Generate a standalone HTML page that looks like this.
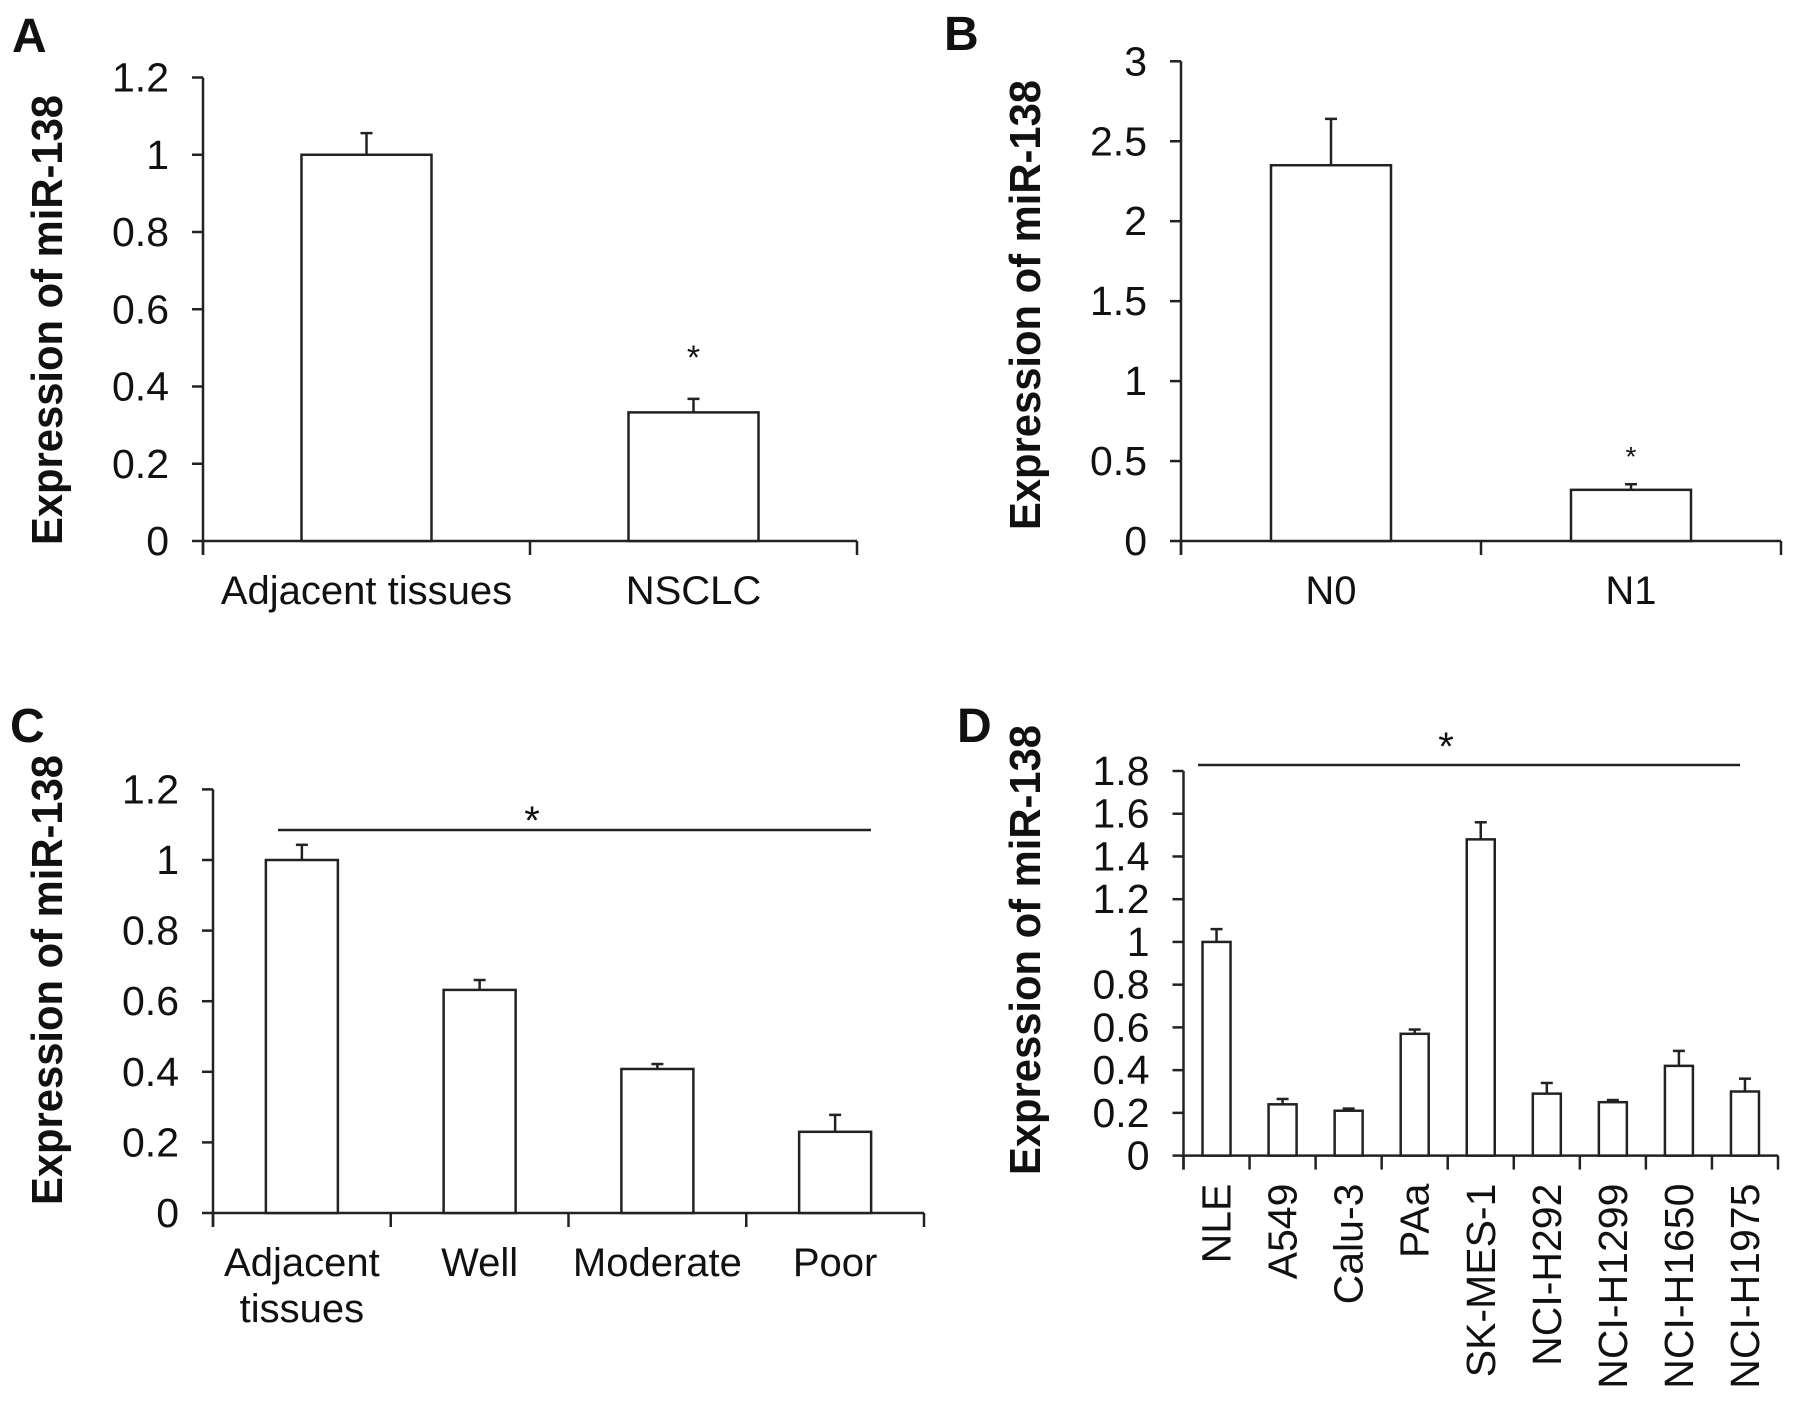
<!DOCTYPE html>
<html><head><meta charset="utf-8"><style>
html,body{margin:0;padding:0;background:#fff;}
svg{display:block;}
text{font-family:"Liberation Sans",Arial,sans-serif;fill:#111;}
</style></head><body>
<svg id="fig" width="1795" height="1404" viewBox="0 0 1795 1404">
<g id="panels"></g>
</svg>
<script>
// Panel A data
const catsA=["Adjacent tissues","NSCLC"];
const valsA=[1.0,0.333];
const errA=[0.056,0.035];
const ticksA=["0","0.2","0.4","0.6","0.8","1","1.2"];
// Panel B data
const catsB=["N0","N1"];
const valsB=[2.35,0.32];
const errB=[0.29,0.035];
const ticksB=["0","0.5","1","1.5","2","2.5","3"];
// Panel C data
const catsC=["Adjacent tissues","Well","Moderate","Poor"];
const valsC=[1.0,0.632,0.408,0.23];
const errC=[0.043,0.028,0.014,0.048];
const ticksC=["0","0.2","0.4","0.6","0.8","1","1.2"];
// Panel D data
const catsD=["NLE","A549","Calu-3","PAa","SK-MES-1","NCI-H292","NCI-H1299","NCI-H1650","NCI-H1975"];
const valsD=[1.0,0.24,0.21,0.57,1.48,0.29,0.25,0.42,0.30];
const errD=[0.06,0.025,0.01,0.02,0.08,0.05,0.01,0.07,0.06];
const ticksD=["0","0.2","0.4","0.6","0.8","1","1.2","1.4","1.6","1.8"];

const NS="http://www.w3.org/2000/svg";
const root=document.getElementById('panels');
function mk(tag,attrs,parent,txt){const e=document.createElementNS(NS,tag);for(const k in attrs)e.setAttribute(k,attrs[k]);if(txt!==undefined)e.textContent=txt;parent.appendChild(e);return e;}

function panel(cfg,cats,vals,errs,ticks){
  const g=mk('g',{},root);
  
  
  const ymax=parseFloat(ticks[ticks.length-1]);
  const y=v=>cfg.y0-(v/ymax)*(cfg.y0-cfg.ytop);
  const n=cats.length;
  const slot=(cfg.xr-cfg.xl)/n;
  const x=i=>cfg.xl+slot*(i+0.5);
  const L=mk('text',{x:cfg.lx,y:cfg.ly,'font-size':48,'font-weight':'bold'},g,cfg.id);
  
  
  const T=mk('text',{x:0,y:0,'font-size':44,'font-weight':'bold','text-anchor':'middle',textLength:450,lengthAdjust:'spacingAndGlyphs',transform:`translate(${cfg.tx},${cfg.ty}) rotate(-90)`},g,'Expression of miR-138');
  
  
  const ya=mk('line',{x1:cfg.xl,y1:cfg.ytop,x2:cfg.xl,y2:cfg.y0+14,stroke:'#222','stroke-width':2.5},g);
  
  
  const xa=mk('line',{x1:cfg.xl,y1:cfg.y0,x2:cfg.xr,y2:cfg.y0,stroke:'#222','stroke-width':2.5},g);
  
  
  for(let i=0;i<=n;i++){
    const t=mk('line',{x1:cfg.xl+slot*i,y1:cfg.y0,x2:cfg.xl+slot*i,y2:cfg.y0+14,stroke:'#222','stroke-width':2.5},g);
    
    
  }
  ticks.forEach(tk=>{
    const v=parseFloat(tk);
    const t=mk('line',{x1:cfg.xl-11,y1:y(v),x2:cfg.xl,y2:y(v),stroke:'#222','stroke-width':2.5},g);
    
    
    const lb=mk('text',{x:cfg.xl-34,y:y(v)+14,'font-size':41,'text-anchor':'end'},g,tk);
    
    
  });
  cats.forEach((c,i)=>{
    const cx=x(i), bw=cfg.bw;
    const top=y(vals[i]), et=y(vals[i]+errs[i]);
    const eb=mk('line',{x1:cx,y1:top,x2:cx,y2:et,stroke:'#222','stroke-width':2.5},g);
    
    
    const ec=mk('line',{x1:cx-6,y1:et,x2:cx+6,y2:et,stroke:'#222','stroke-width':2.5},g);
    
    
    const r=mk('rect',{x:cx-bw/2,y:top,width:bw,height:cfg.y0-top,fill:'#fff',stroke:'#222','stroke-width':2.5},g);
    
    
    if(cfg.rot){
      const lt=mk('text',{x:0,y:0,'font-size':41,'text-anchor':'end',transform:`translate(${cx+14},${cfg.y0+28}) rotate(-90)`},g,c);
      
      
    } else if(cfg.wrap && c==="Adjacent tissues"){
      const a=mk('text',{x:cx,y:cfg.y0+63,'font-size':40,'text-anchor':'middle'},g,'Adjacent');
      
      
      const b=mk('text',{x:cx,y:cfg.y0+109,'font-size':40,'text-anchor':'middle'},g,'tissues');
      
      
    } else {
      const lt=mk('text',{x:cx,y:cfg.y0+63,'font-size':40,'text-anchor':'middle'},g,c);
      
      
    }
  });
  return {g,y,x};
}

const A=panel({id:'A',xl:203,xr:857,y0:541,ytop:77.5,bw:130,lx:12,ly:52,tx:62,ty:320},catsA,valsA,errA,ticksA);
const sa=mk('text',{x:A.x(1),y:A.y(valsA[1]+errA[1])-30,'font-size':34,'text-anchor':'middle'},A.g,'*');



const B=panel({id:'B',xl:1181,xr:1781,y0:541,ytop:61.3,bw:120,lx:944,ly:50,tx:1040,ty:305},catsB,valsB,errB,ticksB);
const sb=mk('text',{x:B.x(1),y:B.y(valsB[1]+errB[1])-18,'font-size':28,'text-anchor':'middle'},B.g,'*');



const C=panel({id:'C',xl:213,xr:924,y0:1213,ytop:789.4,bw:72,lx:10,ly:742,tx:62,ty:980,wrap:true},catsC,valsC,errC,ticksC);
const lc=mk('line',{x1:278,y1:830,x2:871,y2:830,stroke:'#222','stroke-width':2.5},C.g);


const sc=mk('text',{x:532,y:834,'font-size':40,'text-anchor':'middle'},C.g,'*');



const D=panel({id:'D',xl:1183.5,xr:1778,y0:1155.6,ytop:771,bw:28,lx:957,ly:742,tx:1040,ty:950,rot:true},catsD,valsD,errD,ticksD);
const ld=mk('line',{x1:1198,y1:765,x2:1740,y2:765,stroke:'#222','stroke-width':2.5},D.g);


const sd=mk('text',{x:1446,y:760,'font-size':40,'text-anchor':'middle'},D.g,'*');


</script>
</body></html>
